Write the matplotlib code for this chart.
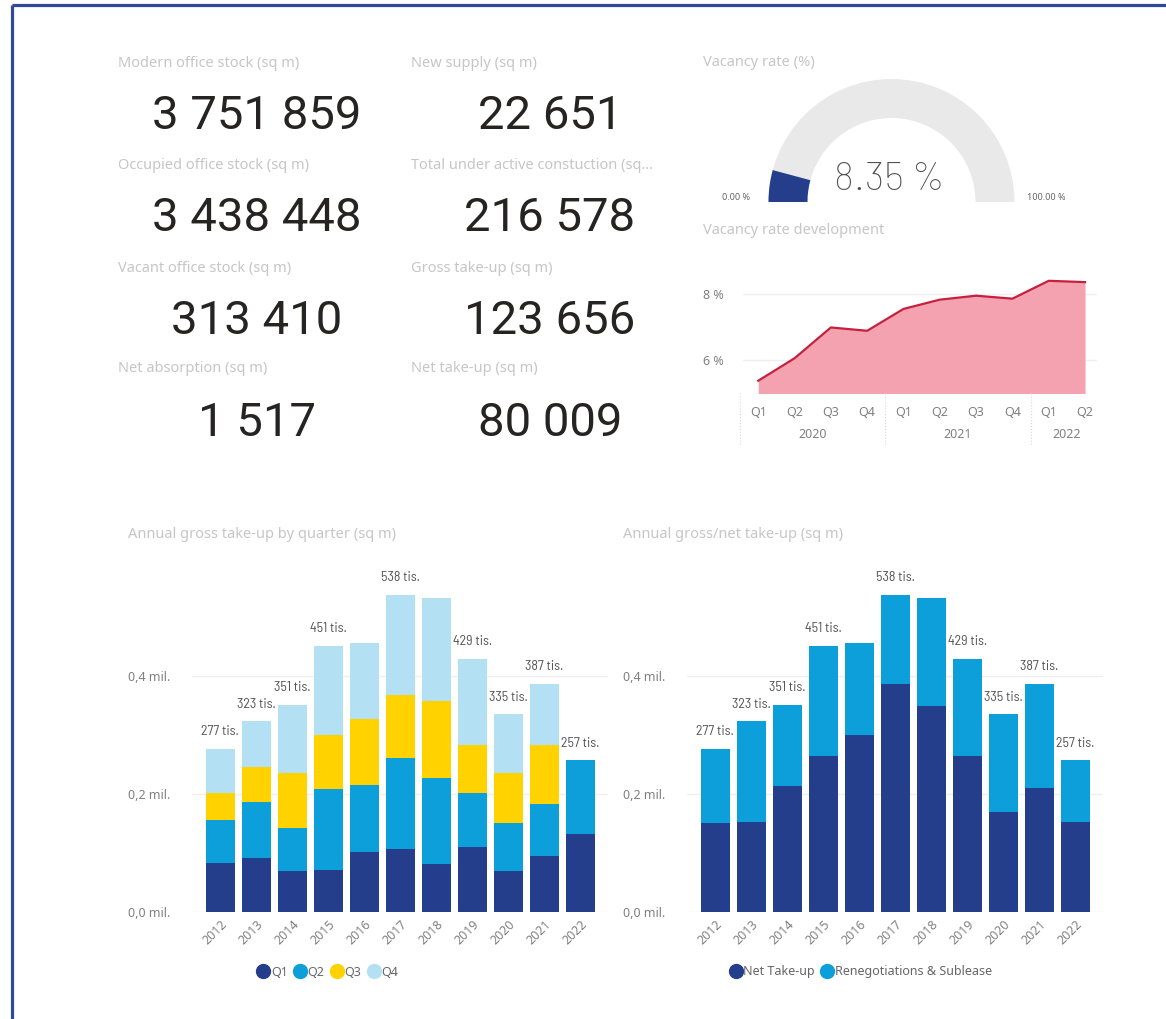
import matplotlib
matplotlib.use("Agg")
import matplotlib.pyplot as plt
from matplotlib.patches import Wedge
from matplotlib.lines import Line2D
import matplotlib.transforms as mtransforms

W, H = 1166, 1019

# KPI cards
kpi_labels = ["Modern office stock (sq m)", "New supply (sq m)",
              "Occupied office stock (sq m)", "Total under active constuction (sq...",
              "Vacant office stock (sq m)", "Gross take-up (sq m)",
              "Net absorption (sq m)", "Net take-up (sq m)"]
kpi_values = ["3 751 859", "22 651", "3 438 448", "216 578",
              "313 410", "123 656", "1 517", "80 009"]

# gauge
vacancy_rate = 8.35

# vacancy rate development
quarters = ["Q1", "Q2", "Q3", "Q4", "Q1", "Q2", "Q3", "Q4", "Q1", "Q2"]
quarter_years = ["2020", "2021", "2022"]
vacancy_dev = [5.37, 6.05, 6.98, 6.88, 7.54, 7.82, 7.94, 7.85, 8.39, 8.35]

# annual take-up (thousand sq m)
years = ["2012", "2013", "2014", "2015", "2016", "2017", "2018", "2019", "2020", "2021", "2022"]
q1 = [83, 92, 70, 72, 102, 106, 82, 111, 70, 95, 133]
q2 = [73, 95, 73, 136, 114, 155, 145, 90, 81, 88, 124]
q3 = [46, 58, 93, 92, 111, 106, 130, 82, 85, 100, 0]
q4 = [75, 78, 115, 151, 129, 171, 176, 146, 99, 104, 0]
net_takeup = [151, 153, 214, 265, 300, 386, 349, 264, 170, 210, 153]
reneg_sublease = [126, 170, 137, 186, 156, 152, 184, 165, 165, 177, 104]
label_shown = [True, True, True, True, False, True, False, True, True, True, True]

navy = "#243e8c"
blue = "#0c9fd9"
yellow = "#ffd200"
lightblue = "#b3e1f3"
title_col = "#c6c6c6"
tick_col = "#808080"
num_font = ["Roboto", "DejaVu Sans"]
gauge_font = ["Barlow", "DejaVu Sans"]
lbl_font = ["Barlow Semi Condensed", "DejaVu Sans"]
txt_font = ["Noto Sans", "DejaVu Sans"]


def box(l, t, r, b):
    return [l / W, 1 - b / H, (r - l) / W, (b - t) / H]


fig = plt.figure(figsize=(W / 100, H / 100), dpi=100)

# background layer in pixel coordinates
bg = fig.add_axes([0, 0, 1, 1])
bg.set_xlim(0, W)
bg.set_ylim(H, 0)
bg.axis("off")
bg.plot([11.5, 11.5], [H, 4.5], color="#2d4a9b", lw=2.3, solid_capstyle="butt")
bg.plot([11.5, W], [4.5, 4.5], color="#2d4a9b", lw=2.3, solid_capstyle="butt")

# KPI cards
col_lx = [118, 411]
col_cx = [257, 550]
row_ly = [63, 165, 268, 369]
row_vy = [116, 218, 321, 423]
for i, (lab, val) in enumerate(zip(kpi_labels, kpi_values)):
    r, c = divmod(i, 2)
    bg.text(col_lx[c], row_ly[r], lab, color=title_col, fontsize=10.5,
            family=txt_font, ha="left", va="center")
    bg.text(col_cx[c], row_vy[r], val, color="#252423", fontsize=34,
            family=num_font, ha="center", va="center")

# gauge
cx, cy, r_out, r_in = 891.5, 202, 123, 84
bg.text(703, 62, "Vacancy rate (%)", color=title_col, fontsize=10.5,
        family=txt_font, ha="left", va="center")
bg.add_patch(Wedge((cx, cy), r_out, 180, 360, width=r_out - r_in,
                   facecolor="#e9e9e9", edgecolor="none"))
bg.add_patch(Wedge((cx, cy), r_out, 180, 180 + vacancy_rate / 100 * 180,
                   width=r_out - r_in, facecolor=navy, edgecolor="none"))
bg.text(889.5, 180, f"{vacancy_rate:.2f} %", color="#505050", fontsize=28,
        family=gauge_font, weight="light", ha="center", va="center")
bg.text(750, 197, "0.00 %", color="#666666", fontsize=6.5, family=txt_font,
        ha="right", va="center")
bg.text(1046, 197, "100.00 %", color="#666666", fontsize=6.5, family=txt_font,
        ha="center", va="center")

# vacancy rate development
bg.text(703, 230, "Vacancy rate development", color=title_col, fontsize=10.5,
        family=txt_font, ha="left", va="center")
ax = fig.add_axes(box(743, 254, 1097, 393))
x = list(range(len(vacancy_dev)))
ax.fill_between(x, vacancy_dev, 0, color="#f5a2b0", lw=0)
ax.plot(x, vacancy_dev, color="#c5203d", lw=1.6)
ax.set_xlim(-0.42, 9.33)
ax.set_ylim(5.0, 9.2)
ax.set_yticks([6, 8])
ax.set_yticklabels(["6 %", "8 %"])
ax.set_xticks(x)
ax.set_xticklabels(quarters)
ax.tick_params(length=0, colors=tick_col, labelsize=9, pad=9)
ax.tick_params(axis="y", pad=14)
for t in ax.get_xticklabels() + ax.get_yticklabels():
    t.set_family(txt_font)
ax.grid(axis="y", color="#efefef", lw=1)
ax.set_axisbelow(True)
for s in ax.spines.values():
    s.set_visible(False)
trans = mtransforms.blended_transform_factory(ax.transData, ax.transAxes)
for xs in [-0.5, 3.5, 7.5]:
    ax.plot([xs, xs], [0, -0.38], transform=trans, color="#d8d8d8", lw=0.8,
            ls=":", clip_on=False)
for yr, xc in zip(quarter_years, [1.5, 5.5, 8.5]):
    ax.text(xc, -0.3, yr, transform=trans, color=tick_col, fontsize=9,
            family=txt_font, ha="center", va="center")


def bar_axes(left, right, title, title_x):
    a = fig.add_axes(box(left, 558, right, 912))
    bg.text(title_x, 535, title, color=title_col, fontsize=10.5,
            family=txt_font, ha="left", va="center")
    a.set_xlim(-0.78, 10.77)
    a.set_ylim(0, 600)
    a.set_yticks([0, 200, 400])
    a.set_yticklabels(["0,0 mil.", "0,2 mil.", "0,4 mil."])
    a.set_xticks(range(len(years)))
    a.set_xticklabels(years, rotation=45, ha="right", rotation_mode="anchor")
    a.tick_params(length=0, colors=tick_col, labelsize=9)
    a.tick_params(axis="y", pad=16)
    a.tick_params(axis="x", pad=4)
    for t in a.get_xticklabels() + a.get_yticklabels():
        t.set_family(txt_font)
    a.grid(axis="y", color="#eeeeee", lw=1)
    a.set_axisbelow(True)
    for s in a.spines.values():
        s.set_visible(False)
    return a


def total_labels(a, totals):
    for i, (tot, show) in enumerate(zip(totals, label_shown)):
        if show:
            a.annotate(f"{tot} tis.", (i, tot), xytext=(0, 12.2),
                       textcoords="offset points", ha="center", va="center",
                       fontsize=10, color="#555555", family=lbl_font)


xi = range(len(years))
ax1 = bar_axes(192, 608, "Annual gross take-up by quarter (sq m)", 128)
bottom = [0] * len(years)
for vals, col in zip([q1, q2, q3, q4], [navy, blue, yellow, lightblue]):
    ax1.bar(xi, vals, 0.8, bottom=bottom, color=col)
    bottom = [b + v for b, v in zip(bottom, vals)]
total_labels(ax1, bottom)

ax2 = bar_axes(687, 1103, "Annual gross/net take-up (sq m)", 623)
ax2.bar(xi, net_takeup, 0.8, color=navy)
ax2.bar(xi, reneg_sublease, 0.8, bottom=net_takeup, color=blue)
total_labels(ax2, [n + r for n, r in zip(net_takeup, reneg_sublease)])


def legend(labels, colors, xc):
    handles = [Line2D([], [], marker="o", ls="none", markersize=10,
                      markerfacecolor=c, markeredgecolor=c) for c in colors]
    fig.legend(handles, labels, loc="center", bbox_to_anchor=(xc / W, 1 - 972 / H),
               ncol=len(labels), frameon=False, handletextpad=0.0,
               columnspacing=0.4, handlelength=1.2,
               prop={"family": txt_font, "size": 9}, labelcolor="#666666")


legend(["Q1", "Q2", "Q3", "Q4"], [navy, blue, yellow, lightblue], 327)
legend(["Net Take-up", "Renegotiations & Sublease"], [navy, blue], 860)

fig.savefig("out.png", dpi=100, facecolor="white")
